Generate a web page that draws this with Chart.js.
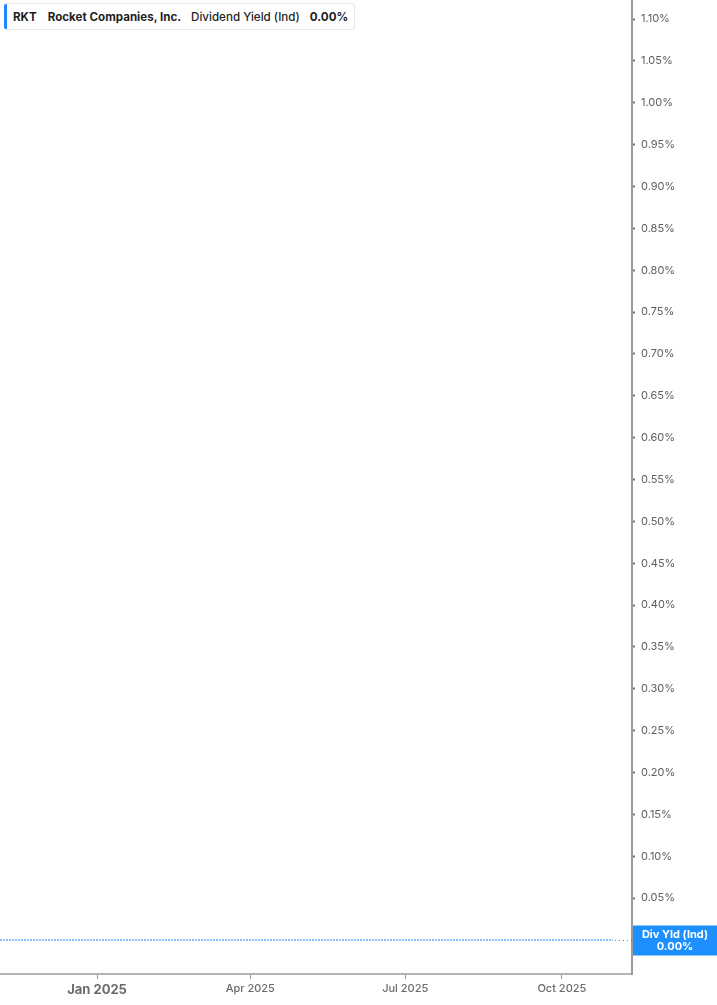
<!DOCTYPE html>
<html>
<head>
<meta charset="utf-8">
<script src="https://cdn.jsdelivr.net/npm/chart.js@4.4.1/dist/chart.umd.min.js"></script>
<style>
  html, body { margin: 0; padding: 0; background: #fff; }
  #wrap { position: relative; width: 717px; height: 1005px; font-family: Inter, "Noto Sans", sans-serif; }
  #legend {
    position: absolute; left: 4px; top: 3px; height: 27px; width: 351px;
    border: 1px solid #e6e6e6; border-radius: 3px; background: #fff;
    display: flex; align-items: center; font-size: 11.6px; color: #1f1f1f; box-sizing: border-box;
  }
  #legend .bar { flex: 0 0 3px; height: 25px; background: #1e88ff; border-radius: 2px 0 0 2px; margin-left: -1px; }
  #legend span { white-space: nowrap; }
</style>
</head>
<body>
<div id="wrap">
  <canvas id="chart" width="717" height="1005"></canvas>
  <div id="legend">
    <div class="bar"></div>
    <span style="margin-left:6px;font-weight:700">RKT</span>
    <span style="margin-left:11px;font-weight:700">Rocket Companies, Inc.</span>
    <span style="margin-left:10px;font-weight:500">Dividend Yield (Ind)</span>
    <span style="margin-left:10px;font-weight:700">0.00%</span>
  </div>
</div>
<script>
/* global Chart */
// Data (dividend yield, %)
const dates = ['2024-11-05', '2024-12-02', '2025-01-02', '2025-02-03', '2025-03-03', '2025-04-01',
  '2025-05-01', '2025-06-02', '2025-07-01', '2025-08-01', '2025-09-02', '2025-10-01', '2025-10-31'];
const yields = [0, 0, 0, 0, 0, 0, 0, 0, 0, 0, 0, 0, 0];
const xTickDates = ['2025-01-01', '2025-04-01', '2025-07-01', '2025-10-01'];
const xTickLabels = ['Jan 2025', 'Apr 2025', 'Jul 2025', 'Oct 2025'];
const yTicks = [0.05, 0.10, 0.15, 0.20, 0.25, 0.30, 0.35, 0.40, 0.45, 0.50, 0.55,
  0.60, 0.65, 0.70, 0.75, 0.80, 0.85, 0.90, 0.95, 1.00, 1.05, 1.10];
const lastLabel = 'Div Yld (Ind)';
const lastValue = '0.00%';

const DAY = 86400000;
const ts = d => Date.parse(d + 'T00:00:00Z');
const jan1 = ts('2025-01-01');
const xMin = jan1 - 57 * DAY;
const xMax = jan1 + 314.2 * DAY;

const points = dates.map((d, i) => ({ x: ts(d), y: yields[i] }));

// last value tag + dotted extension
const tagPlugin = {
  id: 'tag',
  afterDraw(chart) {
    const { ctx, chartArea, scales } = chart;
    const last = points[points.length - 1];
    const px = scales.x.getPixelForValue(last.x);
    const py = Math.round(scales.y.getPixelForValue(last.y)) + 0.5;
    ctx.save();
    ctx.strokeStyle = '#777';
    ctx.lineWidth = 1;
    ctx.setLineDash([1, 3]);
    ctx.beginPath();
    ctx.moveTo(px + 2, py);
    ctx.lineTo(chartArea.right, py);
    ctx.stroke();
    ctx.setLineDash([]);
    const bx = chartArea.right + 1;
    ctx.fillStyle = '#1e8fff';
    ctx.fillRect(bx, py - 15, chart.width - bx, 30);
    ctx.fillStyle = '#fff';
    ctx.font = '700 11px Inter, "Noto Sans", sans-serif';
    ctx.textAlign = 'center';
    ctx.textBaseline = 'middle';
    const cx = bx + (chart.width - bx) / 2;
    ctx.fillText(lastLabel, cx, py - 6);
    ctx.fillText(lastValue, cx, py + 6);
    ctx.restore();
  }
};

const noPad = s => { s.paddingTop = 0; s.paddingBottom = 0; s.paddingLeft = 0; s.paddingRight = 0; };

new Chart(document.getElementById('chart'), {
  type: 'line',
  data: {
    datasets: [{
      data: points,
      borderColor: '#1e88ff',
      borderWidth: 1,
      borderDash: [2, 1],
      pointRadius: 0,
      tension: 0,
      fill: false
    }]
  },
  options: {
    responsive: false,
    animation: false,
    layout: { padding: 0 },
    plugins: { legend: { display: false }, tooltip: { enabled: false } },
    scales: {
      x: {
        type: 'linear',
        min: xMin,
        max: xMax,
        afterBuildTicks: s => { s.ticks = xTickDates.map(d => ({ value: ts(d) })); },
        afterFit: s => { s.height = 31; noPad(s); },
        grid: { drawOnChartArea: false, drawTicks: true, tickLength: 5, color: '#999', tickWidth: 1 },
        border: { display: true, color: '#b3b3b3', width: 2 },
        ticks: {
          autoSkip: false,
          maxRotation: 0,
          padding: 3,
          color: '#6b6b6b',
          font: c => (c.index === 0
            ? { family: 'Inter, "Noto Sans", sans-serif', size: 13, weight: '700' }
            : { family: 'Inter, "Noto Sans", sans-serif', size: 11, weight: '500' }),
          callback: (v, i) => xTickLabels[i]
        }
      },
      y: {
        position: 'right',
        min: -0.0406,
        max: 1.1227,
        afterBuildTicks: s => { s.ticks = yTicks.map(v => ({ value: v })); },
        afterFit: s => { s.width = 85; noPad(s); },
        grid: { drawOnChartArea: false, drawTicks: true, tickLength: 3, color: '#777', tickWidth: 2 },
        border: { display: true, color: '#9a9a9a', width: 2 },
        ticks: {
          autoSkip: false,
          padding: 6,
          color: '#5e5e5e',
          font: { family: 'Inter, "Noto Sans", sans-serif', size: 11 },
          callback: v => v.toFixed(2) + '%'
        }
      }
    }
  },
  plugins: [tagPlugin]
});
</script>
</body>
</html>
